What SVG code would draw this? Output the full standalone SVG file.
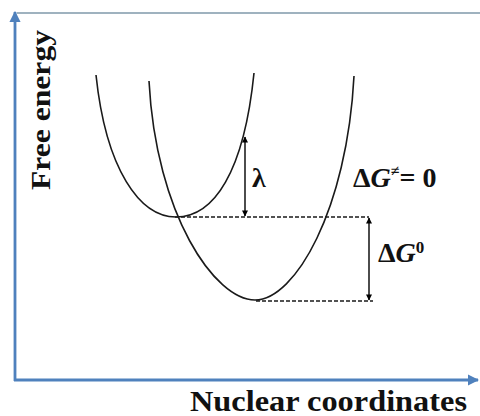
<svg xmlns="http://www.w3.org/2000/svg" width="480" height="416" viewBox="0 0 480 416">
  <defs>
    <marker id="axisHead" viewBox="0 0 10 10" refX="9" refY="5" markerWidth="4.2" markerHeight="4" orient="auto" markerUnits="strokeWidth">
      <path d="M0,0 L10,5 L0,10 Z" fill="#4f81bd"/>
    </marker>
    <marker id="arrowHead" viewBox="0 0 10 10" refX="9" refY="5" markerWidth="7" markerHeight="6" orient="auto-start-reverse" markerUnits="userSpaceOnUse">
      <path d="M0,0 L10,5 L0,10 Z" fill="#000"/>
    </marker>
  </defs>
  <style>
    .axis { stroke: #4f81bd; stroke-width: 2.8; fill: none; }
    .frame { stroke: #7f98aa; stroke-width: 1.5; fill: none; }
    .curve { stroke: #1a1a1a; stroke-width: 1.6; fill: none; }
    .dash { stroke: #1a1a1a; stroke-width: 1.3; stroke-dasharray: 4 2; fill: none; }
    .arrow { stroke: #000; stroke-width: 1.4; fill: none; marker-start: url(#arrowHead); marker-end: url(#arrowHead); }
    .lbl { font-family: "Liberation Serif", "Times New Roman", serif; font-weight: bold; fill: #111; }
  </style>
  <rect width="480" height="416" fill="#fff"/>

  <g id="frame">
    <line class="frame" x1="17" y1="13" x2="480" y2="13"/>
  </g>

  <g id="axes">
    <line class="axis" x1="15" y1="381" x2="15" y2="12" marker-end="url(#axisHead)"/>
    <line class="axis" x1="14" y1="380" x2="478" y2="380" marker-end="url(#axisHead)"/>
  </g>

  <g id="curve-reactant">
    <path class="curve" d="M96,75 C106,170 140,217 176,217 C214,217 244,172 254,73"/>
  </g>
  <g id="curve-product">
    <path class="curve" d="M149,81 C156,215 215,300 255,300 C295,300 347,210 354,76"/>
  </g>

  <g id="connectors">
    <line class="dash" x1="175" y1="217" x2="369" y2="217"/>
    <line class="dash" x1="256" y1="301" x2="373" y2="301"/>
    <line class="arrow" x1="245" y1="137" x2="245" y2="216"/>
    <line class="arrow" x1="369" y1="218" x2="369" y2="300"/>
  </g>

  <g id="label-lambda">
    <text class="lbl" x="252" y="187" font-size="28">λ</text>
  </g>
  <g id="label-dGact">
    <text class="lbl" x="353" y="187" font-size="28">Δ<tspan font-style="italic">G</tspan><tspan font-size="16" dy="-11">≠</tspan><tspan dy="11">= 0</tspan></text>
  </g>
  <g id="label-dG0">
    <text class="lbl" x="378" y="262" font-size="28">Δ<tspan font-style="italic">G</tspan><tspan font-size="17" dy="-9">0</tspan></text>
  </g>
  <g id="label-y">
    <text class="lbl" font-size="28" transform="translate(50,190) rotate(-90)" textLength="160" lengthAdjust="spacingAndGlyphs">Free energy</text>
  </g>
  <g id="label-x">
    <text class="lbl" x="190" y="411" font-size="29" textLength="277" lengthAdjust="spacingAndGlyphs">Nuclear coordinates</text>
  </g>
</svg>
